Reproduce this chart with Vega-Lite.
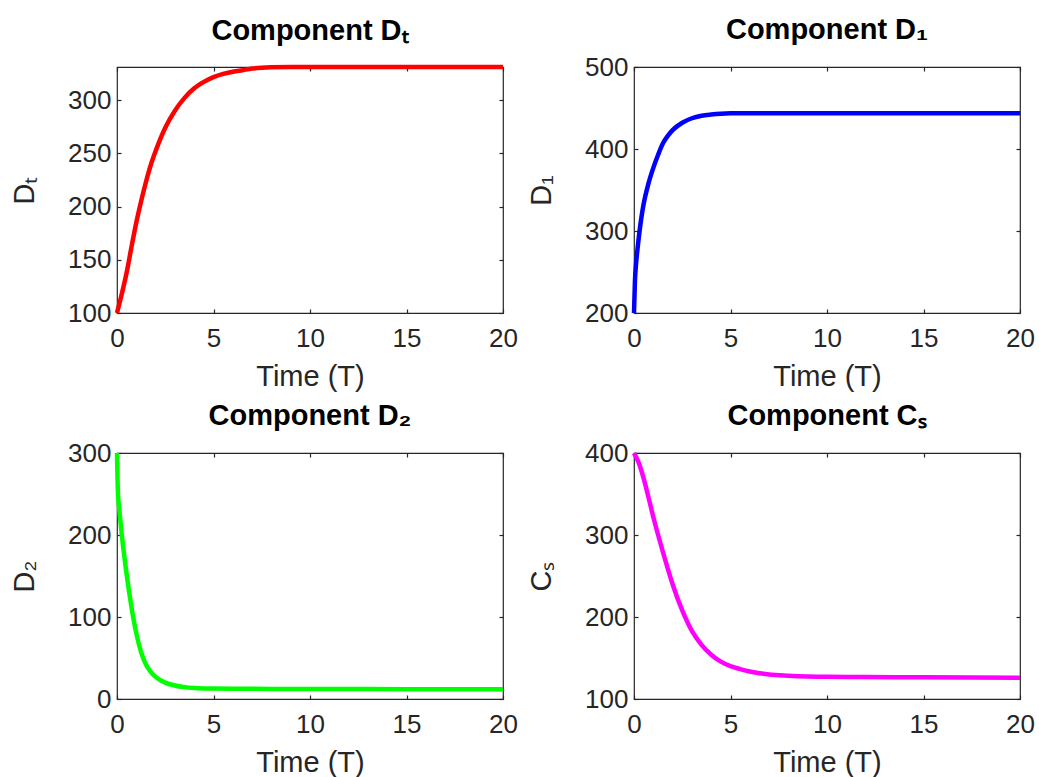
{
  "$schema": "https://vega.github.io/schema/vega-lite/v6.json",
  "background": "white",
  "padding": {"left": 10, "top": 15, "right": 5, "bottom": 5},
  "datasets": {
    "Dt": [
      {"t": 0, "v": 100}, {"t": 0.25, "v": 118}, {"t": 0.5, "v": 138}, {"t": 0.75, "v": 162},
      {"t": 1, "v": 185}, {"t": 1.25, "v": 205}, {"t": 1.5, "v": 223}, {"t": 1.75, "v": 239},
      {"t": 2, "v": 252}, {"t": 2.5, "v": 274}, {"t": 3, "v": 290}, {"t": 3.5, "v": 302},
      {"t": 4, "v": 311}, {"t": 4.5, "v": 317}, {"t": 5, "v": 321.5}, {"t": 5.5, "v": 324.5},
      {"t": 6, "v": 326.5}, {"t": 6.5, "v": 328}, {"t": 7, "v": 329.5}, {"t": 7.5, "v": 330.3},
      {"t": 8, "v": 330.7}, {"t": 9, "v": 331}, {"t": 10, "v": 331}, {"t": 12, "v": 331},
      {"t": 14, "v": 331}, {"t": 16, "v": 331}, {"t": 18, "v": 331}, {"t": 20, "v": 331}
    ],
    "D1": [
      {"t": 0, "v": 200}, {"t": 0.05, "v": 240}, {"t": 0.1, "v": 258}, {"t": 0.2, "v": 282},
      {"t": 0.3, "v": 302}, {"t": 0.4, "v": 319}, {"t": 0.5, "v": 333}, {"t": 0.75, "v": 358},
      {"t": 1, "v": 377}, {"t": 1.25, "v": 393}, {"t": 1.5, "v": 407}, {"t": 1.75, "v": 416},
      {"t": 2, "v": 423}, {"t": 2.5, "v": 432}, {"t": 3, "v": 437.5}, {"t": 3.5, "v": 440.5},
      {"t": 4, "v": 442}, {"t": 4.5, "v": 443}, {"t": 5, "v": 443.5}, {"t": 6, "v": 443.5},
      {"t": 8, "v": 443.5}, {"t": 10, "v": 443.5}, {"t": 12, "v": 443.5}, {"t": 14, "v": 443.5},
      {"t": 16, "v": 443.5}, {"t": 18, "v": 443.5}, {"t": 20, "v": 443.5}
    ],
    "D2": [
      {"t": 0, "v": 300}, {"t": 0.05, "v": 250}, {"t": 0.1, "v": 236}, {"t": 0.25, "v": 200},
      {"t": 0.5, "v": 152}, {"t": 0.75, "v": 112}, {"t": 1, "v": 80}, {"t": 1.25, "v": 57},
      {"t": 1.5, "v": 42}, {"t": 1.75, "v": 33}, {"t": 2, "v": 27}, {"t": 2.5, "v": 20},
      {"t": 3, "v": 16.5}, {"t": 3.5, "v": 14.5}, {"t": 4, "v": 13.5}, {"t": 5, "v": 12.8},
      {"t": 6, "v": 12.5}, {"t": 8, "v": 12.3}, {"t": 10, "v": 12.2}, {"t": 12, "v": 12.1},
      {"t": 15, "v": 12}, {"t": 18, "v": 12}, {"t": 20, "v": 12}
    ],
    "Cs": [
      {"t": 0, "v": 400}, {"t": 0.25, "v": 388}, {"t": 0.5, "v": 369}, {"t": 0.75, "v": 346},
      {"t": 1, "v": 322}, {"t": 1.25, "v": 300}, {"t": 1.5, "v": 279}, {"t": 1.75, "v": 259},
      {"t": 2, "v": 240}, {"t": 2.5, "v": 208}, {"t": 3, "v": 183}, {"t": 3.5, "v": 166},
      {"t": 4, "v": 154}, {"t": 4.5, "v": 145.5}, {"t": 5, "v": 140}, {"t": 5.5, "v": 136.5},
      {"t": 6, "v": 133.5}, {"t": 6.5, "v": 131.5}, {"t": 7, "v": 130}, {"t": 8, "v": 128.5},
      {"t": 9, "v": 127.5}, {"t": 10, "v": 127}, {"t": 12, "v": 126.8}, {"t": 15, "v": 126.5},
      {"t": 20, "v": 126}
    ]
  },
  "columns": 2,
  "spacing": {"column": 8, "row": 9},
  "concat": [
    {
      "width": 386, "height": 246,
      "data": {"name": "Dt"},
      "title": {"text": "Component Dₜ", "offset": 12},
      "layer": [
        {
          "mark": {"type": "line", "color": "#ff0000", "strokeWidth": 4.5, "interpolate": "monotone"},
          "encoding": {
            "x": {"field": "t", "type": "quantitative", "scale": {"domain": [0, 20], "nice": false},
                  "axis": {"title": "Time (T)", "values": [0, 5, 10, 15, 20]}},
            "y": {"field": "v", "type": "quantitative", "scale": {"domain": [100, 331], "nice": false, "zero": false},
                  "axis": {"title": "Dₜ", "values": [100, 150, 200, 250, 300]}}
          }
        },
        {
          "mark": {"type": "line", "strokeOpacity": 0},
          "encoding": {
            "x": {"field": "t", "type": "quantitative", "axis": {"orient": "top", "labels": false, "title": null, "values": [0, 5, 10, 15, 20]}},
            "y": {"field": "v", "type": "quantitative", "axis": {"orient": "right", "labels": false, "title": null, "values": [100, 150, 200, 250, 300]}}
          }
        }
      ],
      "resolve": {"axis": {"x": "independent", "y": "independent"}}
    },
    {
      "width": 386, "height": 246,
      "data": {"name": "D1"},
      "title": {"text": "Component D₁", "offset": 9},
      "layer": [
        {
          "mark": {"type": "line", "color": "#0000ff", "strokeWidth": 4.5, "interpolate": "monotone"},
          "encoding": {
            "x": {"field": "t", "type": "quantitative", "scale": {"domain": [0, 20], "nice": false},
                  "axis": {"title": "Time (T)", "values": [0, 5, 10, 15, 20]}},
            "y": {"field": "v", "type": "quantitative", "scale": {"domain": [200, 500], "nice": false, "zero": false},
                  "axis": {"title": "D₁", "values": [200, 300, 400, 500]}}
          }
        },
        {
          "mark": {"type": "line", "strokeOpacity": 0},
          "encoding": {
            "x": {"field": "t", "type": "quantitative", "axis": {"orient": "top", "labels": false, "title": null, "values": [0, 5, 10, 15, 20]}},
            "y": {"field": "v", "type": "quantitative", "axis": {"orient": "right", "labels": false, "title": null, "values": [200, 300, 400, 500]}}
          }
        }
      ],
      "resolve": {"axis": {"x": "independent", "y": "independent"}}
    },
    {
      "width": 386, "height": 246,
      "data": {"name": "D2"},
      "title": {"text": "Component D₂", "offset": 9},
      "layer": [
        {
          "mark": {"type": "line", "color": "#00ff00", "strokeWidth": 4.5, "interpolate": "monotone"},
          "encoding": {
            "x": {"field": "t", "type": "quantitative", "scale": {"domain": [0, 20], "nice": false},
                  "axis": {"title": "Time (T)", "values": [0, 5, 10, 15, 20]}},
            "y": {"field": "v", "type": "quantitative", "scale": {"domain": [0, 300], "nice": false},
                  "axis": {"title": "D₂", "values": [0, 100, 200, 300]}}
          }
        },
        {
          "mark": {"type": "line", "strokeOpacity": 0},
          "encoding": {
            "x": {"field": "t", "type": "quantitative", "axis": {"orient": "top", "labels": false, "title": null, "values": [0, 5, 10, 15, 20]}},
            "y": {"field": "v", "type": "quantitative", "axis": {"orient": "right", "labels": false, "title": null, "values": [0, 100, 200, 300]}}
          }
        }
      ],
      "resolve": {"axis": {"x": "independent", "y": "independent"}}
    },
    {
      "width": 386, "height": 246,
      "data": {"name": "Cs"},
      "title": {"text": "Component Cₛ", "offset": 9},
      "layer": [
        {
          "mark": {"type": "line", "color": "#ff00ff", "strokeWidth": 4.5, "interpolate": "monotone"},
          "encoding": {
            "x": {"field": "t", "type": "quantitative", "scale": {"domain": [0, 20], "nice": false},
                  "axis": {"title": "Time (T)", "values": [0, 5, 10, 15, 20]}},
            "y": {"field": "v", "type": "quantitative", "scale": {"domain": [100, 400], "nice": false, "zero": false},
                  "axis": {"title": "Cₛ", "values": [100, 200, 300, 400]}}
          }
        },
        {
          "mark": {"type": "line", "strokeOpacity": 0},
          "encoding": {
            "x": {"field": "t", "type": "quantitative", "axis": {"orient": "top", "labels": false, "title": null, "values": [0, 5, 10, 15, 20]}},
            "y": {"field": "v", "type": "quantitative", "axis": {"orient": "right", "labels": false, "title": null, "values": [100, 200, 300, 400]}}
          }
        }
      ],
      "resolve": {"axis": {"x": "independent", "y": "independent"}}
    }
  ],
  "config": {
    "view": {"stroke": "#262626", "strokeWidth": 1.2},
    "font": "Liberation Sans",
    "title": {"font": "Liberation Sans", "fontSize": 29, "fontWeight": "bold", "color": "#000000", "anchor": "middle", "frame": "group"},
    "axis": {
      "domain": false, "grid": false,
      "tickColor": "#262626", "tickSize": -4, "tickWidth": 1.2,
      "labelFont": "Liberation Sans", "labelFontSize": 26, "labelColor": "#262626", "labelFlush": false, "labelOverlap": false,
      "titleFont": "Liberation Sans", "titleFontSize": 29, "titleFontWeight": "normal", "titleColor": "#262626"
    },
    "axisX": {"labelPadding": 16, "titlePadding": 11},
    "axisY": {"labelPadding": 10, "titlePadding": 28}
  }
}
